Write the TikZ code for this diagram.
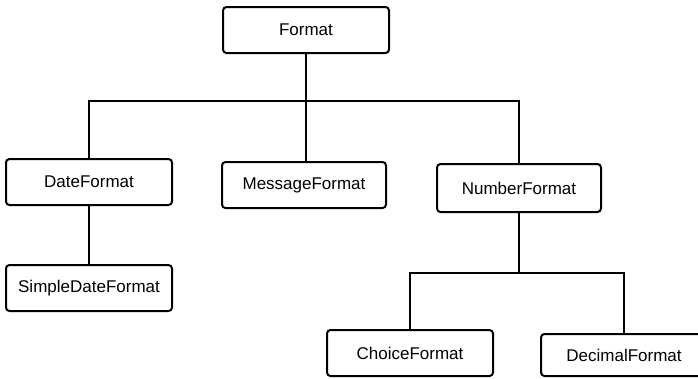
\documentclass[tikz,border=0pt]{standalone}
\usepackage{fontspec}
\setmainfont{Liberation Sans}
\begin{document}
\begin{tikzpicture}[x=1pt, y=-1pt,
  classbox/.style={draw=black, line width=2pt, rounded corners=3.5pt, fill=white,
    minimum width=166pt, minimum height=46pt, inner sep=0pt,
    font=\fontsize{17}{20}\selectfont},
  link/.style={draw=black, line width=2pt}]
\useasboundingbox (0,0) rectangle (698,378);

% class hierarchy boxes
\node[classbox] (Format) at (306,30) {Format};
\node[classbox] (DateFormat) at (89,182) {DateFormat};
\node[classbox, minimum width=164pt] (MessageFormat) at (304,185) {MessageFormat};
\node[classbox, minimum width=164pt, minimum height=48pt] (NumberFormat) at (519,188) {NumberFormat};
\node[classbox] (SimpleDateFormat) at (89,288) {SimpleDateFormat};
\node[classbox] (ChoiceFormat) at (410,353) {ChoiceFormat};
\node[classbox, minimum height=42pt] (DecimalFormat) at (624,355) {DecimalFormat};

% bus lines of the tree
\coordinate (busA) at (0,101);
\coordinate (busB) at (0,273);

\draw[link] (Format.south) -- (Format.south |- MessageFormat.north);
\draw[link] (DateFormat.north) -- (DateFormat.north |- busA)
  -- (NumberFormat.north |- busA) -- (NumberFormat.north);

\draw[link] (DateFormat.south) -- (SimpleDateFormat.north);

\draw[link] (NumberFormat.south) -- (NumberFormat.south |- busB);
\draw[link] (ChoiceFormat.north) -- (ChoiceFormat.north |- busB)
  -- (DecimalFormat.north |- busB) -- (DecimalFormat.north);
\end{tikzpicture}
\end{document}
